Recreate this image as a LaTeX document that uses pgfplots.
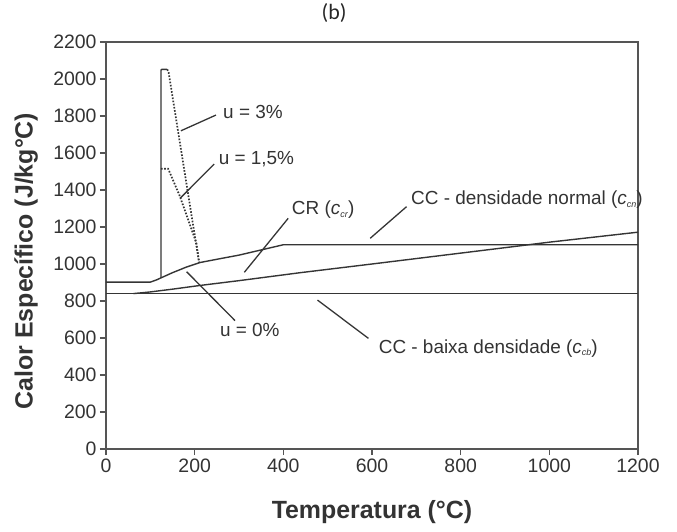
\documentclass[border=0pt]{standalone}
\usepackage{fontspec}
\setmainfont{Liberation Sans}
\newfontfamily\carlito{Carlito}
\usepackage{pgfplots}
\pgfplotsset{compat=1.18}
\definecolor{ln}{HTML}{353535}
\definecolor{fr}{HTML}{555555}
\definecolor{tx}{HTML}{333333}
\newcommand{\sub}[1]{\raisebox{-0.25ex}{\fontsize{9}{9}\selectfont\textit{#1}}}
\tikzset{cl/.style={color=ln, line width=1.4bp, mark=none}}
\begin{document}
\begin{tikzpicture}
\begin{axis}[
  name=ax, scale only axis, width=532bp, height=407bp,
  xmin=0, xmax=1200, ymin=0, ymax=2200,
  xtick={0,200,...,1200}, ytick={0,200,...,2200},
  tick align=outside, major tick length=6bp,
  xtick pos=bottom, ytick pos=left,
  axis line style={color=fr, line width=1.5bp},
  tick style={color=fr, line width=1.2bp},
  ticklabel style={font=\fontsize{19.5}{19.5}\selectfont, text=tx},
  /pgf/number format/assume math mode=true,
  /pgf/number format/1000 sep={},
  xlabel={Temperatura (°C)},
  ylabel={Calor Específico (J/kg°C)},
  label style={font=\fontsize{25}{25}\selectfont\bfseries, text=tx},
  xlabel style={at={(axis description cs:0.5,-0.155)}, anchor=center},
  ylabel style={at={(axis description cs:-0.150,0.462)}, anchor=center, rotate=0},
  title={\carlito (b)},
  title style={font=\fontsize{22}{22}\selectfont, at={(axis description cs:0.4286,1.0565)}, anchor=center, text=black!85},
  clip=false,
]
% CC - baixa densidade
\addplot[cl] coordinates {(0,840) (1200,840)};
% CC - densidade normal
\addplot[cl] coordinates {(62,840) (100,849) (150,864) (212,884) (300,910) (438,953) (600,1000) (889,1085) (1000,1118) (1200,1172)};
% CR (u = 0%)
\addplot[cl] coordinates {(0,902) (100,902) (115,915) (124,925) (150,953) (182,984) (212,1008) (260,1030) (300,1048) (400,1104) (1200,1104)};
% u = 3% (solid rise)
\addplot[cl] coordinates {(124,925) (124,2048) (126,2052) (138,2052)};
% u = 3% dotted descent
\addplot[cl, line width=1.7bp, dash pattern=on 1.6bp off 1.6bp] coordinates {(138,2052) (141,2040) (210,1008)};
% u = 1,5%
\addplot[cl, line width=1.7bp, dash pattern=on 1.6bp off 1.6bp] coordinates {(124,1515) (140,1515) (142,1505) (167,1364) (204,1112) (210,1008)};
% leader lines
\begin{scope}[color=ln, line width=1.3bp]
\draw (axis cs:169,1720) -- (axis cs:248,1805);
\draw (axis cs:167,1355) -- (axis cs:244,1540);
\draw (axis cs:312,955) -- (axis cs:411,1247);
\draw (axis cs:596,1139) -- (axis cs:678,1310);
\draw (axis cs:182,958) -- (axis cs:291,694);
\draw (axis cs:477,805) -- (axis cs:592,598);
\end{scope}
\begin{scope}[every node/.style={font=\fontsize{19}{19}\selectfont, text=tx, anchor=west, inner sep=0pt}]
\node at (axis cs:264,1823) {u = 3\%};
\node at (axis cs:254,1566) {u = 1,5\%};
\node at (axis cs:419,1292) {CR (\textit{c}\sub{cr})};
\node at (axis cs:688,1346) {CC - densidade normal (\textit{c}\sub{cn})};
\node at (axis cs:257,643) {u = 0\%};
\node at (axis cs:615,544) {CC - baixa densidade (\textit{c}\sub{cb})};
\end{scope}
\coordinate (O) at (rel axis cs:0,0);
\end{axis}
\pgfresetboundingbox
\path ([shift={(-106bp,-83bp)}]O) rectangle ([shift={(571bp,449bp)}]O);
\end{tikzpicture}
\end{document}
